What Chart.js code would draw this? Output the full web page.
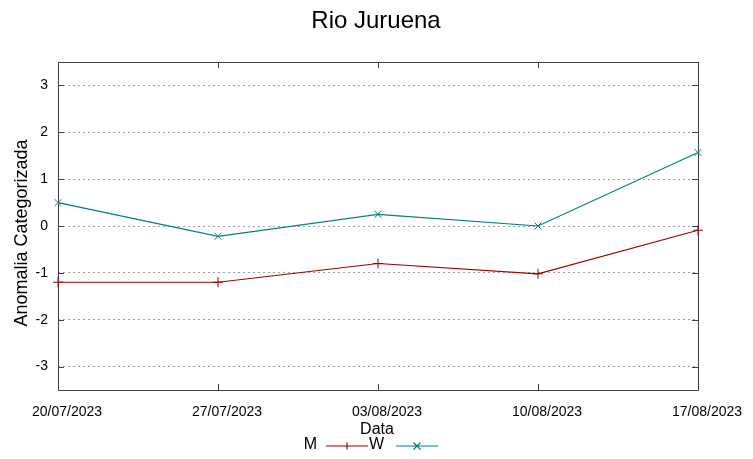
<!DOCTYPE html>
<html>
<head>
<meta charset="utf-8">
<script src="https://cdn.jsdelivr.net/npm/chart.js@4.4.1/dist/chart.umd.min.js"></script>
<style>
  html, body { margin: 0; padding: 0; background: #ffffff; }
  #wrap { width: 753px; height: 459px; position: relative; }
</style>
</head>
<body>
<div id="wrap"><canvas id="c" width="753" height="459"></canvas></div>
<script>
const chartTitle = 'Rio Juruena';
const xTitle = 'Data';
const yTitle = 'Anomalia Categorizada';
const categories = ['20/07/2023', '27/07/2023', '03/08/2023', '10/08/2023', '17/08/2023'];
const seriesM = [-1.2, -1.2, -0.8, -1.02, -0.09];
const seriesW = [0.5, -0.22, 0.25, 0.0, 1.57];
const yTicks = [-3, -2, -1, 0, 1, 2, 3];
const yMin = -3.5, yMax = 3.5;

const colM = '#a00000';
const colW = '#008080';
const FONT = '"Liberation Sans", Arial, sans-serif';

const decor = {
  id: 'decor',
  beforeDatasetsDraw(chart) {
    const ctx = chart.ctx;
    const a = chart.chartArea;
    const xs = chart.scales.x, ys = chart.scales.y;
    ctx.save();
    ctx.strokeStyle = '#404040';
    ctx.lineWidth = 1;
    ctx.beginPath();
    ctx.rect(Math.round(a.left) + 0.5, Math.round(a.top) + 0.5, Math.round(a.right - a.left), Math.round(a.bottom - a.top));
    ctx.stroke();
    const tl = 6;
    ctx.beginPath();
    xs.ticks.forEach((t, i) => {
      const x = Math.round(xs.getPixelForTick(i)) + 0.5;
      ctx.moveTo(x, a.bottom); ctx.lineTo(x, a.bottom - tl);
      ctx.moveTo(x, a.top); ctx.lineTo(x, a.top + tl);
    });
    ys.ticks.forEach((t) => {
      const y = Math.round(ys.getPixelForValue(t.value)) + 0.5;
      ctx.moveTo(a.left, y); ctx.lineTo(a.left + tl, y);
      ctx.moveTo(a.right, y); ctx.lineTo(a.right - tl, y);
    });
    ctx.stroke();
    ctx.restore();
  },
  afterDraw(chart) {
    const ctx = chart.ctx;
    ctx.save();
    ctx.fillStyle = '#000000';
    ctx.font = '24px ' + FONT;
    ctx.textAlign = 'center';
    ctx.textBaseline = 'middle';
    ctx.fillText(chartTitle, 376, 21);
    ctx.font = '16px ' + FONT;
    ctx.fillText(xTitle, 377, 430);
    ctx.save();
    ctx.translate(22, 233);
    ctx.rotate(-Math.PI / 2);
    ctx.font = '18px ' + FONT;
    ctx.fillText(yTitle, 0, 0);
    ctx.restore();
    // legend
    const ly = 445;
    const lline = 446;
    ctx.font = '16px ' + FONT;
    ctx.textAlign = 'right';
    ctx.fillText('M', 317, ly);
    ctx.fillText('W', 384, ly);
    ctx.lineWidth = 1.2;
    ctx.strokeStyle = colM;
    ctx.beginPath();
    ctx.moveTo(326, lline); ctx.lineTo(368, lline);
    ctx.moveTo(347, lline - 3.5); ctx.lineTo(347, lline + 3.5);
    ctx.stroke();
    ctx.strokeStyle = colW;
    ctx.beginPath();
    ctx.moveTo(396, lline); ctx.lineTo(438, lline);
    ctx.moveTo(413.5, lline - 3.5); ctx.lineTo(420.5, lline + 3.5);
    ctx.moveTo(420.5, lline - 3.5); ctx.lineTo(413.5, lline + 3.5);
    ctx.stroke();
    ctx.restore();
  }
};

new Chart(document.getElementById('c'), {
  type: 'line',
  data: {
    labels: categories,
    datasets: [
      { label: 'M', data: seriesM, borderColor: colM, backgroundColor: colM, borderWidth: 1.2,
        pointStyle: 'cross', pointRadius: 5, pointBorderWidth: 1, pointBorderColor: colM,
        tension: 0, fill: false, clip: false },
      { label: 'W', data: seriesW, borderColor: colW, backgroundColor: colW, borderWidth: 1.2,
        pointStyle: 'crossRot', pointRadius: 5, pointBorderWidth: 1, pointBorderColor: colW,
        tension: 0, fill: false, clip: false }
    ]
  },
  options: {
    responsive: false,
    animation: false,
    devicePixelRatio: 1,
    layout: { padding: { top: 62, right: 55, left: 0, bottom: 0 } },
    plugins: { legend: { display: false }, title: { display: false }, tooltip: { enabled: false } },
    scales: {
      x: {
        type: 'category',
        offset: false,
        grid: { display: false, drawTicks: false },
        border: { display: false },
        ticks: { color: '#000', font: { family: FONT, size: 14 }, padding: 14, labelOffset: 9,
                 maxRotation: 0, autoSkip: false },
        afterFit(scale) { scale.height = 69; }
      },
      y: {
        type: 'linear',
        min: yMin, max: yMax,
        afterBuildTicks(scale) { scale.ticks = yTicks.map(v => ({ value: v })); },
        grid: { color: '#a0a0a0', lineWidth: 1, drawTicks: false },
        border: { display: false, dash: [2, 3] },
        ticks: { color: '#000', font: { family: FONT, size: 14 }, padding: 10,
                 callback: (v) => String(v) },
        afterFit(scale) { scale.width = 58; }
      }
    }
  },
  plugins: [decor]
});
</script>
</body>
</html>
